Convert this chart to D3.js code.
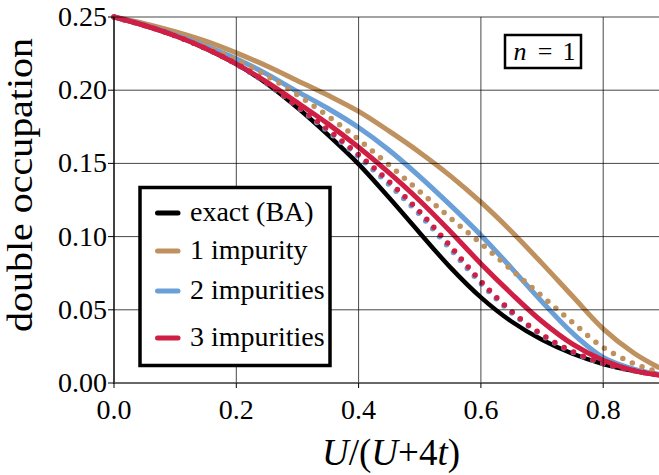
<!DOCTYPE html>
<html><head><meta charset="utf-8">
<script src="https://cdn.jsdelivr.net/npm/d3@7"></script>
<style>body{margin:0;background:#fff}</style>
</head><body><svg id="c" width="659" height="475"></svg>
<script>
const xs        = [0, 0.05, 0.1, 0.15, 0.2, 0.25, 0.3, 0.35, 0.4, 0.45, 0.5, 0.55, 0.6, 0.65, 0.7, 0.75, 0.8, 0.85, 0.89];
const exactBA   = [0.25, 0.2442, 0.2372, 0.2285, 0.2178, 0.2045, 0.1880, 0.1695, 0.1495, 0.1265, 0.1025, 0.0790, 0.0585, 0.0420, 0.0295, 0.0200, 0.0130, 0.0083, 0.0055];
const imp1      = [0.25, 0.2455, 0.2400, 0.2335, 0.2255, 0.2165, 0.2065, 0.1965, 0.1855, 0.1720, 0.1575, 0.1415, 0.1235, 0.1035, 0.0817, 0.0592, 0.0370, 0.0205, 0.0108];
const imp2      = [0.25, 0.2444, 0.2378, 0.2302, 0.2215, 0.2110, 0.1990, 0.1875, 0.1745, 0.1590, 0.1410, 0.1215, 0.1010, 0.0785, 0.0555, 0.0340, 0.0175, 0.0095, 0.0060];
const imp3      = [0.25, 0.2442, 0.2372, 0.2285, 0.2180, 0.2055, 0.1915, 0.1770, 0.1610, 0.1435, 0.1245, 0.1035, 0.0815, 0.0610, 0.0420, 0.0265, 0.0155, 0.0085, 0.0055];
const imp1dot   = [0.25, 0.2443, 0.2376, 0.2298, 0.2208, 0.2098, 0.1968, 0.1823, 0.1663, 0.1488, 0.1308, 0.1128, 0.0953, 0.0773, 0.0593, 0.0413, 0.0243, 0.0133, 0.0075];
const imp2dot   = [0.25, 0.2442, 0.2372, 0.2285, 0.2178, 0.2045, 0.1885, 0.1718, 0.1545, 0.1355, 0.1150, 0.0915, 0.0680, 0.0480, 0.0325, 0.0210, 0.0132, 0.0084, 0.0055];
const imp3dot   = [0.25, 0.2442, 0.2372, 0.2285, 0.2180, 0.2050, 0.1890, 0.1730, 0.1560, 0.1375, 0.1170, 0.0935, 0.0695, 0.0490, 0.0330, 0.0215, 0.0135, 0.0085, 0.0055];
const xTicks    = [0, 0.2, 0.4, 0.6, 0.8];
const yTicks    = [0, 0.05, 0.10, 0.15, 0.20, 0.25];
const legendLabels = ["exact (BA)", "1 impurity", "2 impurities", "3 impurities"];
const colors    = {black:"#000000", tan:"#bf915e", blue:"#6a9fd8", red:"#cf1f45"};
const FONT = "Liberation Serif";

const svg = d3.select("#c");
const x = d3.scaleLinear().domain([0, 0.9]).range([114, 114 + 0.9 * 611.5]);
const y = d3.scaleLinear().domain([0, 0.25]).range([383, 17]);
const line = d3.line().x(d => x(d[0])).y(d => y(d[1])).curve(d3.curveCatmullRom.alpha(0.5));
const pts = arr => xs.map((v, i) => [v, arr[i]]);

const curves = [
  {d: exactBA, c: colors.black, w: 4.5, dot: false},
  {d: imp1,    c: colors.tan,   w: 5,   dot: false},
  {d: imp2,    c: colors.blue,  w: 5,   dot: false},
  {d: imp1dot, c: colors.tan,   w: 5.5, dot: true},
  {d: imp2dot, c: colors.blue,  w: 5.5, dot: true},
  {d: imp3dot, c: colors.red,   w: 5.5, dot: true},
  {d: imp3,    c: colors.red,   w: 5,   dot: false}
];
const gC = svg.append("g");
curves.forEach(cv => {
  gC.append("path").attr("d", line(pts(cv.d))).attr("fill", "none")
    .attr("stroke", cv.c).attr("stroke-width", cv.w)
    .attr("stroke-linecap", "round")
    .attr("stroke-dasharray", cv.dot ? "0 10.5" : null);
});

// grid (on top of curves)
const gG = svg.append("g").attr("stroke", "#000").attr("stroke-opacity", 0.72).attr("stroke-width", 1);
xTicks.forEach(t => gG.append("line").attr("x1", x(t)).attr("x2", x(t)).attr("y1", y(0.25)).attr("y2", y(0)));
yTicks.forEach(t => gG.append("line").attr("x1", x(0)).attr("x2", 659).attr("y1", y(t)).attr("y2", y(t)));

// axes: ticks and labels placed with the scales
const fx = d3.format(".1f"), fy = d3.format(".2f");
svg.append("line").attr("x1", x(0)).attr("x2", x(0)).attr("y1", y(0.25)).attr("y2", y(0) + 1).attr("stroke", "#000").attr("stroke-width", 1.2);
svg.append("line").attr("x1", x(0)).attr("x2", 659).attr("y1", y(0)).attr("y2", y(0)).attr("stroke", "#555").attr("stroke-width", 1.5);
xTicks.forEach(t => {
  svg.append("line").attr("x1", x(t)).attr("x2", x(t)).attr("y1", y(0)).attr("y2", y(0) + 5).attr("stroke", "#000");
  svg.append("text").attr("x", x(t)).attr("y", y(0) + 36).attr("text-anchor", "middle")
    .attr("font-family", FONT).attr("font-size", 28).text(fx(t));
});
yTicks.forEach(t => {
  svg.append("line").attr("x1", x(0) - 6).attr("x2", x(0)).attr("y1", y(t)).attr("y2", y(t)).attr("stroke", "#000");
  svg.append("text").attr("x", x(0) - 7).attr("y", y(t) + 9).attr("text-anchor", "end")
    .attr("font-family", FONT).attr("font-size", 28).text(fy(t));
});

// axis titles
svg.append("text").attr("x", 391).attr("y", 465).attr("text-anchor", "middle").attr("font-size", 37).attr("font-family", FONT)
  .html('<tspan font-style="italic">U</tspan>/(<tspan font-style="italic">U</tspan>+4<tspan font-style="italic">t</tspan>)');
svg.append("text").attr("transform", "translate(32,185) rotate(-90)").attr("text-anchor", "middle")
  .attr("font-size", 36).attr("font-family", FONT)
  .attr("textLength", 294).attr("lengthAdjust", "spacingAndGlyphs")
  .text("double occupation");

// n = 1 box
svg.append("rect").attr("x", 505).attr("y", 35).attr("width", 76).attr("height", 33).attr("fill", "#fff").attr("stroke", "#000").attr("stroke-width", 2.5);
svg.append("text").attr("x", 520).attr("y", 60).attr("text-anchor", "middle").attr("font-size", 26).attr("font-family", FONT).attr("font-style", "italic").text("n");
svg.append("text").attr("x", 545).attr("y", 60).attr("text-anchor", "middle").attr("font-size", 26).attr("font-family", FONT).text("=");
svg.append("text").attr("x", 569).attr("y", 60).attr("text-anchor", "middle").attr("font-size", 26).attr("font-family", FONT).text("1");

// legend
svg.append("rect").attr("x", 140).attr("y", 187.5).attr("width", 190).attr("height", 178).attr("fill", "#fff").attr("stroke", "#000").attr("stroke-width", 3.5);
const lc = [colors.black, colors.tan, colors.blue, colors.red];
const ly = [213, 251, 291, 338];
legendLabels.forEach((lab, i) => {
  svg.append("line").attr("x1", 157.5).attr("x2", 178).attr("y1", ly[i]).attr("y2", ly[i])
    .attr("stroke", lc[i]).attr("stroke-width", 5).attr("stroke-linecap", "round");
  svg.append("text").attr("x", 190).attr("y", ly[i] + 8).attr("font-size", 28).attr("font-family", FONT).text(lab);
});
</script></body></html>
